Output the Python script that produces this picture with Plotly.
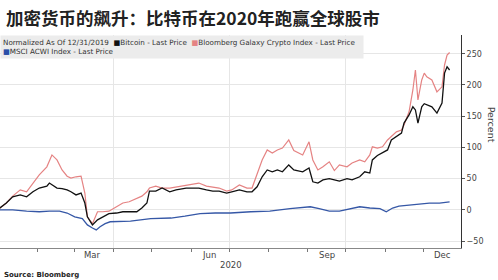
import plotly.graph_objects as go

# ---- data (percent change, normalized as of 12/31/2019) ----
crypto_dates = [
    "2019-12-31", "2020-01-07", "2020-01-12", "2020-01-18", "2020-01-23", "2020-01-28",
    "2020-02-02", "2020-02-08", "2020-02-10", "2020-02-12", "2020-02-16", "2020-02-20",
    "2020-02-24", "2020-02-27", "2020-03-02", "2020-03-06", "2020-03-09", "2020-03-11",
    "2020-03-15", "2020-03-19", "2020-03-23", "2020-03-28", "2020-04-03", "2020-04-08",
    "2020-04-13", "2020-04-19", "2020-04-23", "2020-04-27", "2020-04-29", "2020-05-04",
    "2020-05-09", "2020-05-15", "2020-05-20", "2020-05-28", "2020-06-02", "2020-06-07",
    "2020-06-13", "2020-06-18", "2020-06-23", "2020-06-29", "2020-07-03", "2020-07-09",
    "2020-07-15", "2020-07-19", "2020-07-23", "2020-07-27", "2020-07-31", "2020-08-04",
    "2020-08-08", "2020-08-12", "2020-08-17", "2020-08-21", "2020-08-28", "2020-09-02",
    "2020-09-05", "2020-09-09", "2020-09-13", "2020-09-18", "2020-09-22", "2020-09-26",
    "2020-10-02", "2020-10-06", "2020-10-12", "2020-10-16", "2020-10-20", "2020-10-22",
    "2020-10-26", "2020-10-30", "2020-11-03", "2020-11-06", "2020-11-10", "2020-11-14",
    "2020-11-16", "2020-11-20", "2020-11-23", "2020-11-25", "2020-11-27", "2020-11-30",
    "2020-12-02", "2020-12-04", "2020-12-08", "2020-12-12", "2020-12-16", "2020-12-18",
    "2020-12-20", "2020-12-22",
]
bitcoin = [
    0, 11, 21, 24, 21, 29,
    35, 38, 43, 40, 35, 34,
    32, 29, 24, 27, 11, -11,
    -24, -16, -11, -6, -5, -3,
    -3, -3, 3, 11, 30, 30,
    35, 29, 32, 35, 35, 35,
    32, 30, 30, 27, 29, 32,
    29, 29, 37, 53, 64, 61,
    64, 61, 72, 64, 61, 67,
    45, 43, 48, 50, 48, 46,
    50, 48, 53, 61, 59, 80,
    87, 91, 96, 112, 117, 123,
    139, 152, 165, 160, 139, 165,
    170, 168, 165, 155, 171, 219,
    229, 224,
]
galaxy = [
    0, 11, 22, 32, 29, 43,
    56, 69, 80, 88, 80, 64,
    54, 51, 53, 54, 27, -11,
    -22, -3, -3, -2, 5, 11,
    13, 18, 22, 29, 35, 38,
    35, 35, 37, 40, 42, 43,
    38, 37, 35, 30, 32, 40,
    35, 35, 56, 80, 96, 91,
    96, 99, 112, 95, 88, 109,
    80, 64, 69, 77, 63, 72,
    69, 75, 80, 77, 88, 101,
    99, 101, 112, 117, 125, 128,
    136, 157, 192, 224, 176, 208,
    219, 213, 208, 189, 197, 232,
    248, 252,
]
msci_dates = [
    "2019-12-31", "2020-01-12", "2020-01-23", "2020-02-02", "2020-02-10", "2020-02-18",
    "2020-02-24", "2020-03-01", "2020-03-07", "2020-03-11", "2020-03-15", "2020-03-18",
    "2020-03-21", "2020-03-25", "2020-03-29", "2020-04-06", "2020-04-14", "2020-04-30",
    "2020-05-16", "2020-05-27", "2020-06-08", "2020-06-20", "2020-07-02", "2020-07-18",
    "2020-08-02", "2020-08-18", "2020-08-26", "2020-09-03", "2020-09-10", "2020-09-18",
    "2020-09-26", "2020-10-04", "2020-10-12", "2020-10-20", "2020-10-28", "2020-11-02",
    "2020-11-07", "2020-11-12", "2020-11-20", "2020-11-28", "2020-12-06", "2020-12-14",
    "2020-12-22",
]
msci = [
    0, 0, -2, -3, -2, -2,
    -5, -11, -14, -24, -29, -32,
    -27, -22, -19, -18, -18, -14,
    -13, -10, -6, -5, -5, -3,
    -2, 2, 3, 5, 2, -2,
    -2, 2, 5, 3, 2, -3,
    3, 6, 8, 10, 11, 11,
    13,
]

month_label_dates = ["2020-03-15", "2020-06-15", "2020-09-16", "2020-12-16"]
month_labels = ["Mar", "Jun", "Sep", "Dec"]
quarter_starts = ["2020-04-01", "2020-07-01", "2020-10-01"]
y_ticks = [-50, 0, 50, 100, 150, 200, 250]

title_text = "加密货币的飙升：比特币在2020年跑赢全球股市"
legend_text = ("Normalized As Of 12/31/2019  "
               "<span style='color:#111111'>■</span>Bitcoin - Last Price  "
               "<span style='color:#e58383'>■</span>Bloomberg Galaxy Crypto Index - Last Price<br>"
               "<span style='color:#2a4fa8'>■</span>MSCI ACWI Index - Last Price")

X_RANGE = ["2020-01-02", "2020-12-31"]

fig = go.Figure()
fig.add_trace(go.Scatter(x=msci_dates, y=msci, mode="lines",
                         line=dict(color="#3557a6", width=1.3), showlegend=False))
fig.add_trace(go.Scatter(x=crypto_dates, y=galaxy, mode="lines",
                         line=dict(color="#e58383", width=1.2), showlegend=False))
fig.add_trace(go.Scatter(x=crypto_dates, y=bitcoin, mode="lines",
                         line=dict(color="#111111", width=1.3), showlegend=False))

annotations = [
    dict(text="<b>" + title_text + "</b>", x=0.008, y=1.08, xref="paper", yref="paper",
         xanchor="left", yanchor="middle", showarrow=False,
         font=dict(family="Noto Sans CJK SC", size=17.5, color="#222222")),
    dict(text=legend_text, x=0, y=1, xref="paper", yref="paper",
         xanchor="left", yanchor="top", align="left", showarrow=False,
         bgcolor="#ececec", borderpad=2, width=358,
         font=dict(family="DejaVu Sans", size=7.2, color="#333333")),
    dict(text="Percent", x=1.066, y=0.577, xref="paper", yref="paper",
         xanchor="center", yanchor="middle", showarrow=False, textangle=90,
         font=dict(size=9.5, color="#444444")),
    dict(text="2020", x="2020-07-02", y=-0.08, xref="x", yref="paper",
         xanchor="center", yanchor="middle", showarrow=False,
         font=dict(size=8.5, color="#444444")),
    dict(text="<b>Source: Bloomberg</b>", x=0.005, y=-0.127, xref="paper",
         yref="paper", xanchor="left", yanchor="middle", showarrow=False,
         font=dict(size=7, color="#222222")),
]
for d, lab in zip(month_label_dates, month_labels):
    annotations.append(dict(text=lab, x=d, y=-0.033, xref="x", yref="paper",
                            xanchor="center", yanchor="middle", showarrow=False,
                            font=dict(size=8.5, color="#444444")))

fig.update_layout(
    width=498, height=280,
    margin=dict(l=0, r=37, t=35, b=32),
    paper_bgcolor="white", plot_bgcolor="white",
    font=dict(family="DejaVu Sans", color="#333333"),
    xaxis=dict(
        type="date", range=X_RANGE,
        tickvals=quarter_starts, showticklabels=False, ticks="",
        showgrid=True, gridcolor="#e6e6e6", gridwidth=1,
        showline=True, linecolor="#888888", linewidth=1,
        zeroline=False,
        minor=dict(dtick="M1", tick0="2020-01-01", ticks="outside",
                   ticklen=3, tickcolor="#777777", showgrid=False),
    ),
    yaxis=dict(
        range=[-61, 280], side="right", tickvals=y_ticks,
        ticks="outside", ticklen=3, tickcolor="#555555",
        showline=True, linecolor="#333333", linewidth=1,
        showgrid=True, gridcolor="#e6e6e6", gridwidth=1, zeroline=False,
        tickfont=dict(size=8, color="#444444"),
    ),
    annotations=annotations,
)

fig.write_html("out.html")
